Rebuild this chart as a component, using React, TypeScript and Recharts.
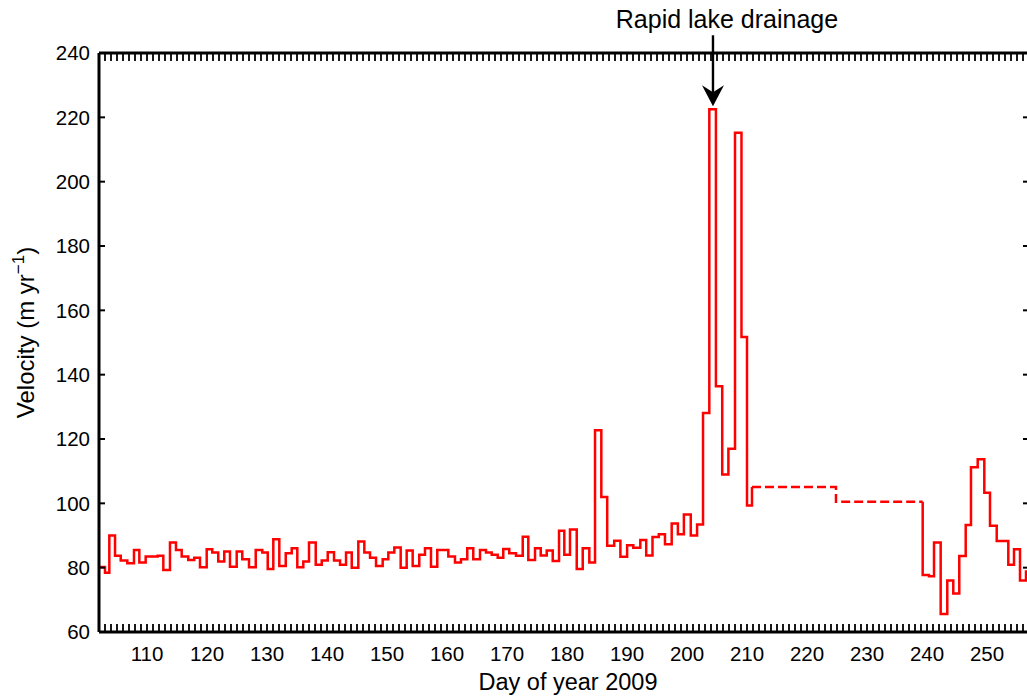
import React from 'react';
import { LineChart, Line, XAxis, YAxis, ReferenceDot } from 'recharts';

const FONT = '"Liberation Sans", Arial, Helvetica, sans-serif';

// Solid part (day of year at start of each step, velocity m/yr)
const solidDays = [
  102.0, 103.0, 103.72, 104.67, 105.62, 106.72, 107.83, 108.72, 109.78, 110.78,
  111.78, 112.72, 113.83, 114.83, 115.78, 116.88, 117.88, 118.83, 119.95, 120.88,
  121.88, 122.88, 123.83, 124.95, 125.88, 127.0, 128.12, 129.22, 130.12, 131.05,
  132.05, 133.12, 134.12, 135.05, 136.05, 137.0, 138.12, 139.12, 140.12, 141.17,
  142.17, 143.17, 144.12, 145.22, 146.22, 147.17, 148.17, 149.28, 150.22, 151.22,
  152.28, 153.28, 154.28, 155.38, 156.33, 157.33, 158.38, 159.33, 160.22, 161.33,
  162.33, 163.38, 164.38, 165.5, 166.5, 167.45, 168.45, 169.38, 170.38, 171.5,
  172.62, 173.55, 174.67, 175.62, 176.62, 177.62, 178.67, 179.55, 180.5, 181.62,
  182.62, 183.72, 184.67, 185.72, 186.7, 187.87, 188.9, 190.02, 191.05, 192.22,
  193.2, 194.25, 195.3, 196.33, 197.45, 198.48, 199.48, 200.63, 201.68, 202.67,
  203.72, 204.82, 205.87, 206.9, 208.0, 209.08, 210.0,
];
const solidValues = [
  80.2, 78.4, 90, 83.7, 82.2, 81.4, 85.5, 81.6, 83.5, 83.5,
  83.7, 79.3, 87.8, 85.5, 83.5, 82.4, 83.1, 80.1, 85.7, 84.7,
  81.9, 85, 80.3, 85, 82.6, 80.1, 85.5, 84.7, 79.6, 88.8,
  80.5, 84.5, 86, 80.1, 81.9, 87.8, 80.9, 82.2, 84.8, 82.2,
  80.9, 84.7, 80, 88.1, 84.7, 83.1, 80.5, 82.6, 84.7, 86.3,
  80, 85.3, 80.5, 84, 86, 80.3, 85.5, 85.5, 83.5, 81.6,
  82.6, 86, 82.6, 85.5, 84.7, 84, 83.1, 85.8, 84.5, 83.7,
  89.6, 82.4, 86, 83.8, 85.3, 82.1, 91.5, 84, 91.9, 79.6,
  86, 81.6, 122.7, 102, 86.8, 88.4, 83.4, 87, 86.2, 88.6,
  83.8, 89.5, 90.4, 87.3, 93.7, 90.4, 96.5, 90, 93.4, 128.1,
  222.5, 136.4, 109, 117, 215.2, 151.7, 99.3,
];

// Data gap (dashed)
const dashDays = [210.83, 224.83, 239.28];
const dashValues = [105.1, 100.5, 100.5];

// Solid tail
const tailDays = [
  239.28, 240.33, 241.17, 242.28, 243.38, 244.38, 245.38, 246.45, 247.33, 248.45,
  249.55, 250.5, 251.62, 252.62, 253.55, 254.5, 255.5, 256.5, 257.0,
];
const tailValues = [
  77.7, 77.3, 87.8, 65.6, 76, 72, 83.6, 93.3, 111.2, 113.7,
  103.3, 93, 88.3, 88.3, 80.9, 85.7, 76, 78.8, 78.8,
];

const xLabelTicks = [110, 120, 130, 140, 150, 160, 170, 180, 190, 200, 210, 220, 230, 240, 250];
const xMinorTicks = Array.from({ length: 156 }, (_, i) => 102 + i);
const yTicks = [60, 80, 100, 120, 140, 160, 180, 200, 220, 240];
const X_DOMAIN: [number, number] = [102, 257];
const Y_DOMAIN: [number, number] = [60, 240];

const ANNOT_DAY = 204.33;
const ANNOT_PEAK = 222.5;
const ANNOT_TEXT = 'Rapid lake drainage';

type Row = { day: number; v: number | null; d: number | null };
const rows: Row[] = [];
solidDays.forEach((day, i) => rows.push({ day, v: solidValues[i], d: null }));
dashDays.forEach((day, i) => {
  const edge = i === 0 || i === dashDays.length - 1;
  rows.push({ day, v: edge ? dashValues[i] : null, d: dashValues[i] });
});
tailDays.forEach((day, i) => rows.push({ day, v: tailValues[i], d: null }));

const BottomTick = (props: any) => {
  const { x, y, payload } = props;
  const lab = xLabelTicks.includes(payload.value);
  return (
    <g>
      <line x1={x} y1={y} x2={x} y2={y - 8} stroke="#000" strokeWidth={1.8} />
      {lab && (
        <text x={x} y={y + 29} textAnchor="middle" fontSize={20.5} fontFamily={FONT} fill="#000">
          {payload.value}
        </text>
      )}
    </g>
  );
};

const TopTick = (props: any) => {
  const { x, y } = props;
  return <line x1={x} y1={y} x2={x} y2={y + 8} stroke="#000" strokeWidth={1.8} />;
};

const LeftTick = (props: any) => {
  const { x, y, payload } = props;
  return (
    <g>
      <line x1={x} y1={y} x2={x + 6} y2={y} stroke="#000" strokeWidth={2} />
      <text x={x - 9} y={y} dy="0.35em" textAnchor="end" fontSize={20.5} fontFamily={FONT} fill="#000">
        {payload.value}
      </text>
    </g>
  );
};

const RightTick = (props: any) => {
  const { x, y } = props;
  return <line x1={x} y1={y} x2={x - 6} y2={y} stroke="#000" strokeWidth={2} />;
};

const YLabel = (props: any) => {
  const vb = props.viewBox || { x: 0, y: 53, width: 99, height: 579 };
  const cx = vb.x + 34;
  const cy = vb.y + vb.height / 2 - 10;
  return (
    <text
      x={cx}
      y={cy}
      transform={`rotate(-90 ${cx} ${cy})`}
      textAnchor="middle"
      fontSize={24}
      fontFamily={FONT}
      fill="#000"
    >
      Velocity (m yr
      <tspan dy={-10} fontSize={17}>−1</tspan>
      <tspan dy={10} fontSize={24}>)</tspan>
    </text>
  );
};

const XLabel = (props: any) => {
  const vb = props.viewBox || { x: 99, y: 632, width: 930, height: 66 };
  return (
    <text
      x={vb.x + vb.width / 2 + 4}
      y={vb.y + 58}
      textAnchor="middle"
      fontSize={23.5}
      fontFamily={FONT}
      fill="#000"
    >
      Day of year 2009
    </text>
  );
};

const ArrowShape = (props: any) => {
  const { cx, cy } = props;
  if (cx == null || cy == null) return <g />;
  const tip = cy - 3;
  return (
    <g>
      <line x1={cx} y1={tip - 14} x2={cx} y2={tip - 71} stroke="#000" strokeWidth={2.4} />
      <path
        d={`M${cx},${tip} L${cx - 11},${tip - 21} L${cx},${tip - 14} L${cx + 11},${tip - 21} Z`}
        fill="#000"
      />
      <text x={cx + 14} y={tip - 78} textAnchor="middle" fontSize={25} fontFamily={FONT} fill="#000">
        {ANNOT_TEXT}
      </text>
    </g>
  );
};

export default function App() {
  return (
    <div
      style={{
        position: 'absolute',
        left: 0,
        top: 0,
        width: 1027,
        height: 698,
        overflow: 'hidden',
        background: '#fff',
      }}
    >
      <LineChart width={1040} height={698} data={rows} margin={{ top: 0, right: 0, bottom: 0, left: 0 }}>
        <XAxis
          xAxisId={0}
          dataKey="day"
          type="number"
          domain={X_DOMAIN}
          allowDataOverflow
          ticks={xMinorTicks}
          interval={0}
          tick={<BottomTick />}
          tickLine={false}
          tickSize={0}
          tickMargin={0}
          axisLine={{ stroke: '#000', strokeWidth: 3 }}
          height={66}
          label={XLabel}
        />
        <XAxis
          xAxisId="top"
          orientation="top"
          dataKey="day"
          type="number"
          domain={X_DOMAIN}
          allowDataOverflow
          ticks={xMinorTicks}
          interval={0}
          tick={<TopTick />}
          tickLine={false}
          tickSize={0}
          tickMargin={0}
          axisLine={{ stroke: '#000', strokeWidth: 3 }}
          height={53}
        />
        <YAxis
          yAxisId={0}
          type="number"
          domain={Y_DOMAIN}
          allowDataOverflow
          ticks={yTicks}
          interval={0}
          tick={<LeftTick />}
          tickLine={false}
          tickSize={0}
          tickMargin={0}
          axisLine={{ stroke: '#000', strokeWidth: 3 }}
          width={99}
          label={YLabel}
        />
        <YAxis
          yAxisId="right"
          orientation="right"
          type="number"
          domain={Y_DOMAIN}
          allowDataOverflow
          ticks={yTicks}
          interval={0}
          tick={<RightTick />}
          tickLine={false}
          tickSize={0}
          tickMargin={0}
          axisLine={{ stroke: '#000', strokeWidth: 3 }}
          width={11}
        />
        <Line
          dataKey="v"
          type="stepAfter"
          stroke="#ff0000"
          strokeWidth={2.5}
          dot={false}
          activeDot={false}
          isAnimationActive={false}
          connectNulls={false}
        />
        <Line
          dataKey="d"
          type="stepAfter"
          stroke="#ff0000"
          strokeWidth={2.5}
          strokeDasharray="9 4"
          dot={false}
          activeDot={false}
          isAnimationActive={false}
          connectNulls={false}
        />
        <ReferenceDot
          x={ANNOT_DAY}
          y={ANNOT_PEAK}
          r={0}
          ifOverflow="visible"
          shape={ArrowShape}
        />
      </LineChart>
    </div>
  );
}
